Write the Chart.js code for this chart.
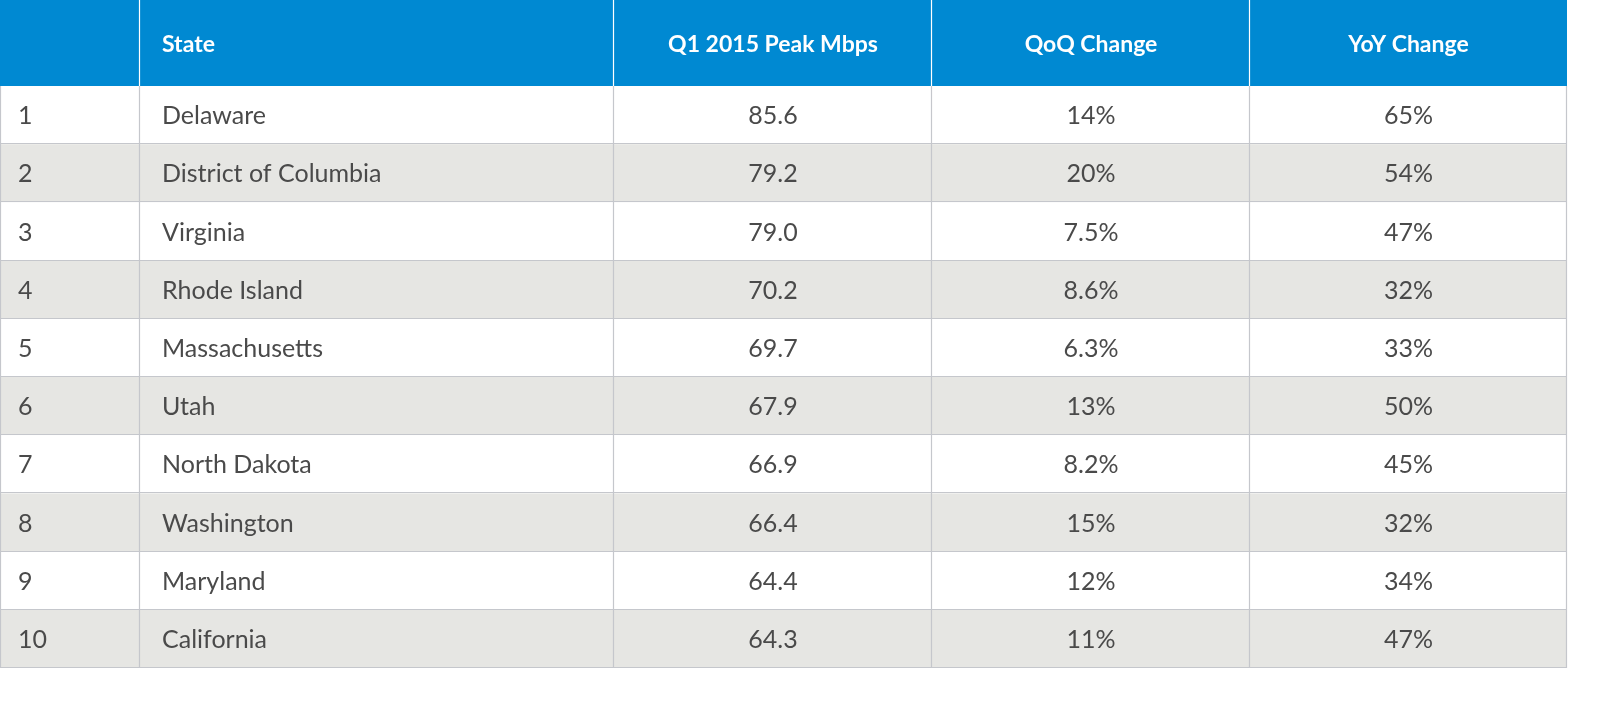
<!DOCTYPE html>
<html>
<head>
<meta charset="utf-8">
<script src="https://cdn.jsdelivr.net/npm/chart.js@4"></script>
<style>
  html, body { margin: 0; padding: 0; background: #fff; }
  #wrap { position: absolute; left: 0; top: 0; width: 1568px; height: 668px; }
</style>
</head>
<body>
<div id="wrap"><canvas id="tableChart"></canvas></div>
<script>
// data
const headers = ["", "State", "Q1 2015 Peak Mbps", "QoQ Change", "YoY Change"];
const ranks = ["1", "2", "3", "4", "5", "6", "7", "8", "9", "10"];
const states = ["Delaware", "District of Columbia", "Virginia", "Rhode Island", "Massachusetts",
  "Utah", "North Dakota", "Washington", "Maryland", "California"];
const peakMbps = ["85.6", "79.2", "79.0", "70.2", "69.7", "67.9", "66.9", "66.4", "64.4", "64.3"];
const qoqChange = ["14%", "20%", "7.5%", "8.6%", "6.3%", "13%", "8.2%", "15%", "12%", "11%"];
const yoyChange = ["65%", "54%", "47%", "32%", "33%", "50%", "45%", "32%", "34%", "47%"];

// layout (axis units == pixels)
const colEdges = [0, 140, 614, 932, 1250, 1567];
const headerH = 86;
const rowH = 58.2;
const columns = [ranks, states, peakMbps, qoqChange, yoyChange];
const aligns = ["left", "left", "center", "center", "center"];

const tablePlugin = {
  id: "tablePlugin",
  beforeDatasetsDraw(chart) {
    const ctx = chart.ctx;
    const x = chart.scales.x, y = chart.scales.y;
    const px = v => x.getPixelForValue(v);
    const py = v => y.getPixelForValue(v);
    const totalH = headerH + rowH * ranks.length;

    // header
    ctx.save();
    ctx.fillStyle = "#0089d2";
    ctx.fillRect(px(0), py(0), px(colEdges[5]) - px(0), py(headerH) - py(0));
    // rows
    ranks.forEach((r, i) => {
      ctx.fillStyle = i % 2 === 0 ? "#ffffff" : "#e6e6e3";
      const top = py(headerH + i * rowH);
      ctx.fillRect(px(0), top, px(colEdges[5]) - px(0), py(headerH + (i + 1) * rowH) - top);
    });
    // grid lines
    ctx.strokeStyle = "#c5c7cc";
    ctx.lineWidth = 1.2;
    ranks.forEach((r, i) => {
      const yy = Math.round(py(headerH + (i + 1) * rowH)) - 0.5;
      ctx.beginPath(); ctx.moveTo(px(0), yy); ctx.lineTo(px(colEdges[5]), yy); ctx.stroke();
    });
    colEdges.forEach((c, j) => {
      const xx = Math.round(px(c)) + (j === 0 ? 0.5 : -0.5);
      ctx.beginPath(); ctx.moveTo(xx, py(headerH)); ctx.lineTo(xx, py(totalH)); ctx.stroke();
    });
    // header separators (white)
    ctx.strokeStyle = "#ffffff";
    colEdges.slice(1, 5).forEach(c => {
      const xx = Math.round(px(c)) - 0.5;
      ctx.beginPath(); ctx.moveTo(xx, py(0)); ctx.lineTo(xx, py(headerH)); ctx.stroke();
    });

    // text
    ctx.textBaseline = "middle";
    const textX = (j) => aligns[j] === "left"
      ? px(colEdges[j]) + (j === 0 ? 18 : 22)
      : (px(colEdges[j]) + px(colEdges[j + 1])) / 2;

    ctx.fillStyle = "#ffffff";
    ctx.font = "bold 23px Lato, 'Open Sans', sans-serif";
    headers.forEach((h, j) => {
      ctx.textAlign = aligns[j];
      ctx.fillText(h, textX(j), py(headerH / 2 + 2));
    });

    ctx.fillStyle = "#4a4a4a";
    ctx.font = "25px Lato, 'Open Sans', sans-serif";
    columns.forEach((col, j) => {
      ctx.textAlign = aligns[j];
      col.forEach((v, i) => {
        ctx.fillText(v, textX(j), py(headerH + (i + 0.5) * rowH + 1));
      });
    });
    ctx.restore();
  }
};

new Chart(document.getElementById("tableChart"), {
  type: "scatter",
  data: { datasets: [] },
  options: {
    responsive: true,
    maintainAspectRatio: false,
    animation: false,
    layout: { padding: 0 },
    plugins: { legend: { display: false }, tooltip: { enabled: false } },
    scales: {
      x: { type: "linear", min: 0, max: 1568, offset: false, grace: 0, display: false },
      y: { type: "linear", min: 0, max: 668, offset: false, grace: 0, reverse: true, display: false }
    }
  },
  plugins: [tablePlugin]
});
</script>
</body>
</html>
